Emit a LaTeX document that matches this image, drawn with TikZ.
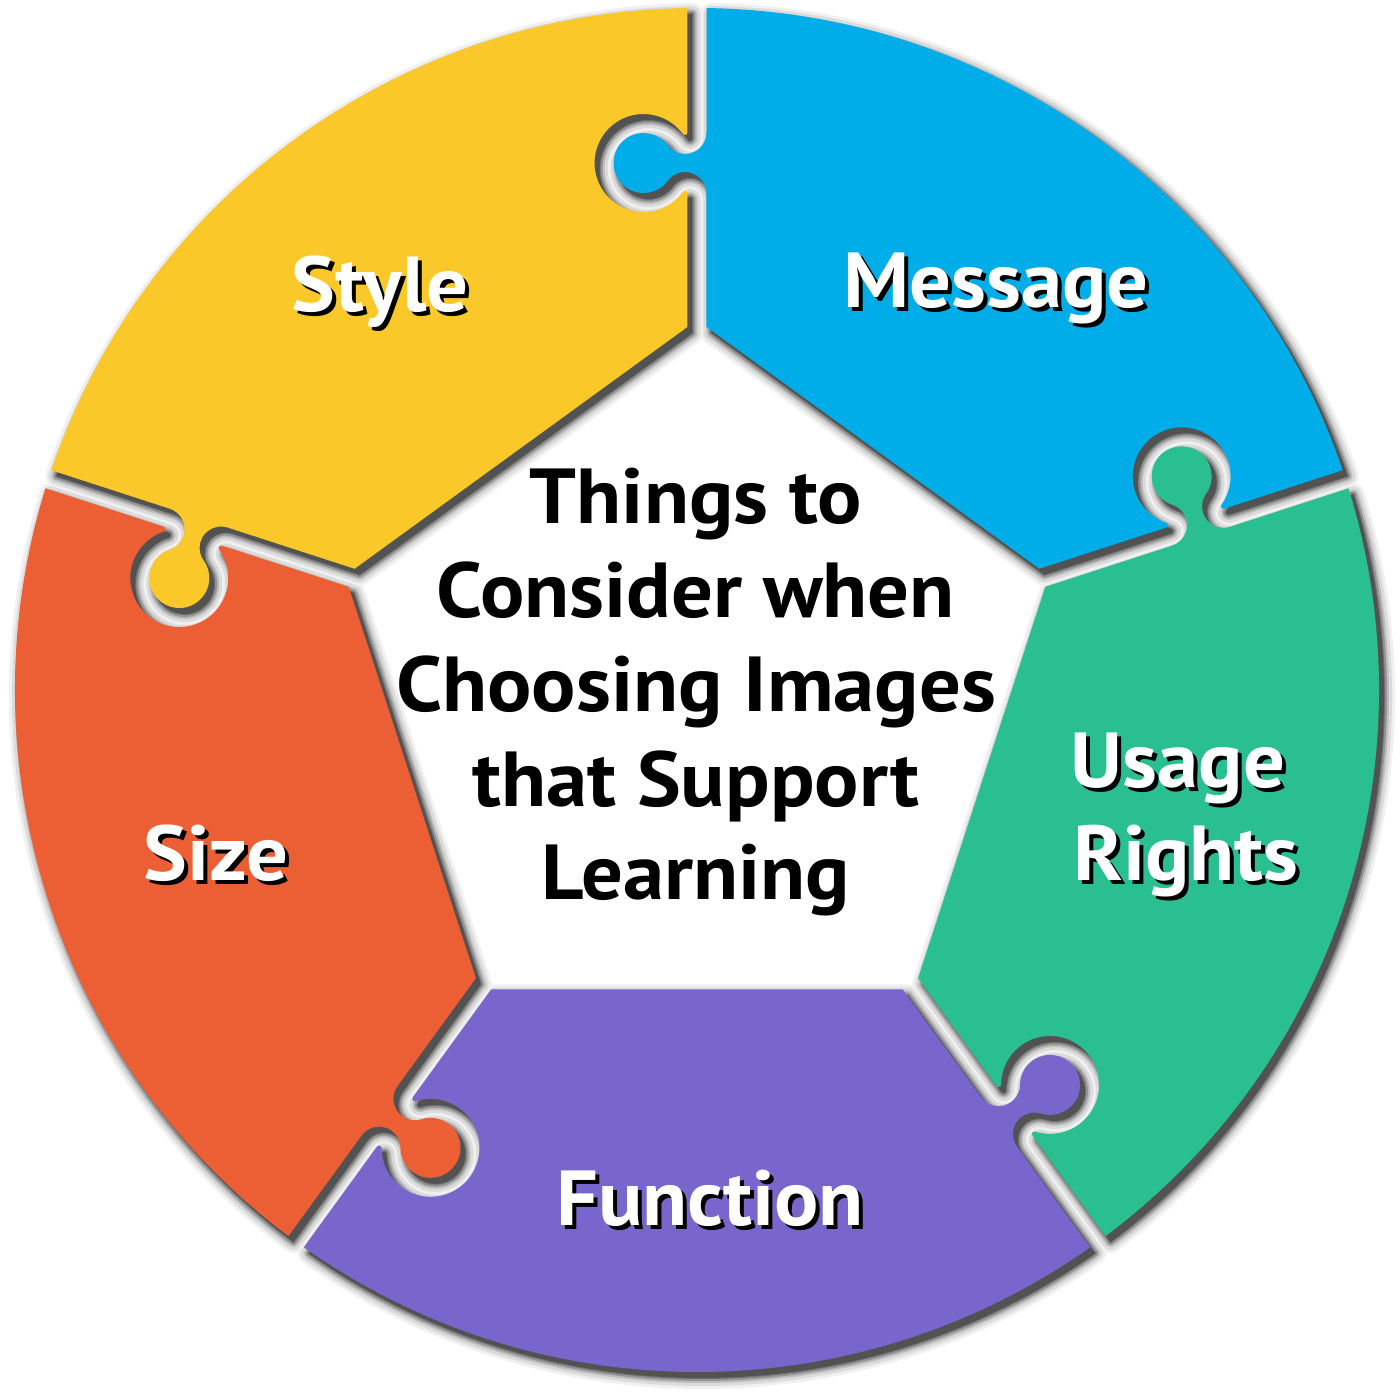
\documentclass[tikz,border=0pt]{standalone}
\usepackage{fontspec}
\setmainfont{PT Sans}[FakeStretch=1.06]
\definecolor{cyel}{HTML}{FAC828}
\definecolor{cblu}{HTML}{00ADE8}
\definecolor{cgrn}{HTML}{2ABF90}
\definecolor{cpur}{HTML}{7966CC}
\definecolor{corg}{HTML}{EC5E34}
\tikzset{
 piece/.style={insert path={
   ([rotate=#1]363.10,9.5) -- ([rotate=#1]496.5,9.5)
   arc[start angle=#1-90, end angle=#1+53.69, radius=2.5]
   arc[start angle=#1+233.69, end angle=#1-53.69, radius=49]
   arc[start angle=#1+126.31, end angle=#1+270, radius=2.5]
   -- ([rotate=#1]681.934,9.5)
   arc[start angle=#1+0.798, end angle=#1+71.202, radius=682]
   -- ([rotate=#1+72]557.5,-9.5)
   arc[start angle=#1+342, end angle=#1+198.31, radius=21.5]
   arc[start angle=#1+18.31, end angle=#1+305.69, radius=30]
   arc[start angle=#1+125.69, end angle=#1-18, radius=21.5]
   -- ([rotate=#1+72]363.10,-9.5) -- cycle}},
 lbl/.style={font=\fontsize{78}{92}\selectfont\bfseries, anchor=base, inner sep=0pt},
 wlbl/.style={lbl, text=white},
 slbl/.style={lbl, text=black},
}
\begin{document}
\begin{tikzpicture}[x=1pt,y=1pt]
\fill[white] (-697,-710) rectangle (703,690);
\useasboundingbox (-697,-710) rectangle (703,690);
% shadows
\begin{scope}[shift={(5,-6)}, line join=round]
 \foreach \w/\c in {22/6, 16/14, 10/26, 6/42, 2/56} {
   \foreach \t in {18,90,162,234,306}
     \path[fill=black!\c, draw=black!\c, line width=\w, piece=\t];
 }
 \foreach \t in {18,90,162,234,306}
   \path[fill=black!68, piece=\t];
\end{scope}
% pieces
\path[fill=cblu, piece=18];
\path[fill=cyel, piece=90];
\path[fill=corg, piece=162];
\path[fill=cpur, piece=234];
\path[fill=cgrn, piece=306];
% centre text
\node[slbl] (t1) at (-1,166) {Things to};
\node[slbl] (t2) at (-1,72) {Consider when};
\node[slbl] (t3) at (-1,-22) {Choosing Images};
\node[slbl] (t4) at (-1,-116) {that Support};
\node[slbl] (t5) at (-1,-209) {Learning};
% labels
\foreach \n/\x/\y/\s in {style/-317/378/Style, message/299/382/Message, usage/481/-97/Usage, rights/489/-190/Rights, size/-481/-190/Size, function/13/-535/Function} {
  \node[slbl] (\n-sh) at (\x+4,\y-4) {\s};
  \node[wlbl] (\n) at (\x,\y) {\s};
}
\end{tikzpicture}
\end{document}
